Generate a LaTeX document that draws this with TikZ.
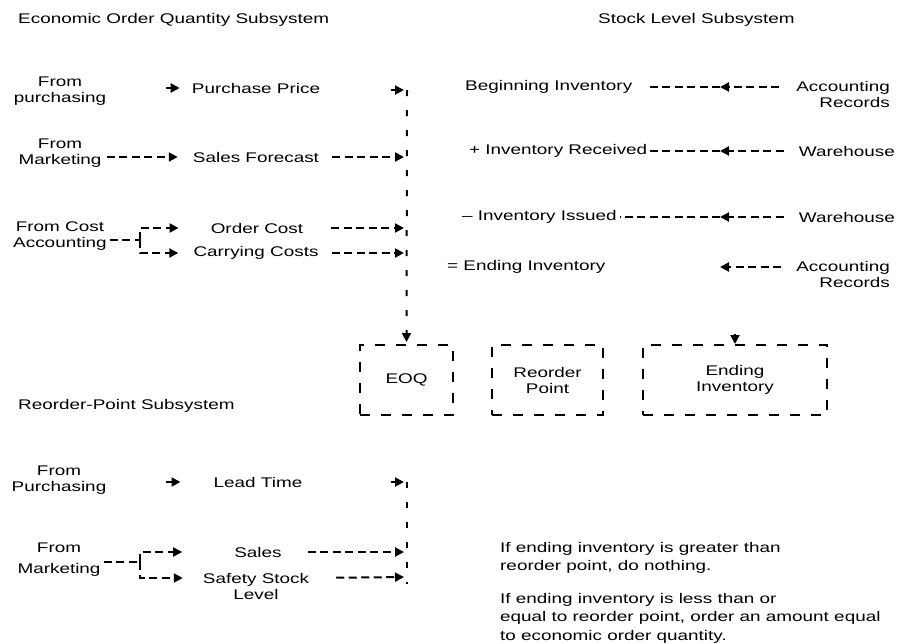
\documentclass[tikz,border=0pt]{standalone}
\usepackage{fontspec}
\setmainfont{Liberation Sans}[FakeStretch=1.35]
\usetikzlibrary{arrows.meta}
\begin{document}
\begin{tikzpicture}[x=1pt,y=-1pt,
  font=\fontsize{14}{16}\selectfont,
  txt/.style={inner sep=0pt, align=center},
  hd/.style={line width=2pt, dash pattern=on 8pt off 4.5pt},
  vd/.style={line width=2pt, dash pattern=on 6pt off 14pt},
  headarrow/.style={-{Triangle[length=9pt,width=9pt]}},
  arrowstub/.style={line width=2pt, headarrow},
  bx/.style={draw, line width=2pt, dash pattern=on 10pt off 11pt,
             inner sep=0pt, align=center, minimum height=70pt},
]
\useasboundingbox (0,0) rectangle (900,643);

% section titles
\node[txt, anchor=west] (ti1) at (18,20) {Economic Order Quantity Subsystem};
\node[txt, anchor=west] (ti2) at (598,20) {Stock Level Subsystem};
\node[txt, anchor=west] (ti3) at (18,406) {Reorder-Point Subsystem};

% sources
\node[txt] (fp1) at (60,91) {From\\purchasing};
\node[txt] (fm1) at (60,153) {From\\Marketing};
\node[txt] (fca) at (60,236) {From Cost\\Accounting};
\node[txt] (fp2) at (59,480) {From\\Purchasing};
\node[txt] (fm2) at (59,560) {From\\[5pt]Marketing};

% inputs
\node[txt] (pp) at (256,88) {Purchase Price};
\node[txt] (sf) at (256,157) {Sales Forecast};
\node[txt] (oc) at (257,228) {Order Cost};
\node[txt] (cc) at (256,253) {Carrying Costs};
\node[txt] (lt) at (258,482) {Lead Time};
\node[txt] (sl) at (258,552) {Sales};
\node[txt] (ss) at (256,586) {Safety Stock\\Level};

% stock level terms
\node[txt, anchor=west] (bi) at (465,87) {Beginning Inventory};
\node[txt, anchor=west] (ir) at (469,151) {+ Inventory Received};
\node[txt, anchor=west] (ii) at (462,217) {– Inventory Issued};
\node[txt, anchor=west] (ei0) at (447,267) {= Ending Inventory};
\node[txt, anchor=east, align=right] (ar1) at (890,94) {Accounting\\Records};
\node[txt, anchor=east] (wh1) at (895,151) {Warehouse};
\node[txt, anchor=east] (wh2) at (895,217) {Warehouse};
\node[txt, anchor=east, align=right] (ar2) at (890,274) {Accounting\\Records};

% results
\node[bx, minimum width=93pt] (eoq) at (406.5,380) {EOQ};
\node[bx, minimum width=111pt] (rop) at (547.5,380) {Reorder\\Point};
\node[bx, minimum width=184pt] (eib) at (735,380) {Ending\\Inventory};

% decision rule
\node[txt, anchor=north west, align=left, font=\fontsize{14}{18.5}\selectfont] (note) at (500,542)
  {If ending inventory is greater than\\reorder point, do nothing.\\[14pt]If ending inventory is less than or\\equal to reorder point, order an amount equal\\to economic order quantity.};

% junction points
\coordinate (t1) at (407,90);
\coordinate (t2) at (407,157);
\coordinate (t3) at (407,228);
\coordinate (t4) at (407,253);
\coordinate (t5) at (407,482);
\coordinate (t6) at (407,552);
\coordinate (t7) at (407,577);
\coordinate (t8) at (407,584);
\coordinate (j1) at (140,240);
\coordinate (j2) at (140,562);
\coordinate (s1) at (166,88);
\coordinate (s2) at (391,90);
\coordinate (s3) at (166,482);
\coordinate (s4) at (391,482);
\coordinate (m1) at (720,87);
\coordinate (m2) at (720,151);
\coordinate (m3) at (720,217);
\coordinate (m4) at (720,267);
\coordinate (eitop) at (735,334);

% economic order quantity flows
\draw[arrowstub, shorten >=12pt] (s1) -- (pp.west);
\draw[hd, headarrow, shorten <=5pt, shorten >=15pt] (fm1.east |- sf) -- (sf.west);
\draw[hd, shorten <=3pt] (fca.east |- j1) -- (j1);
\draw[hd, headarrow, shorten >=32pt] (j1) |- (oc.west);
\draw[hd, headarrow, shorten >=15pt] (j1) |- (cc.west);
\draw[arrowstub, shorten >=3pt] (s2) -- (t1);
\draw[hd, headarrow, shorten <=13pt, shorten >=3pt] (sf.east) -- (t2);
\draw[hd, headarrow, shorten <=28pt, shorten >=3pt] (oc.east) -- (t3);
\draw[hd, headarrow, shorten <=13pt, shorten >=3pt] (cc.east) -- (t4);
\draw[vd, headarrow, shorten >=2pt] (t1) -- (eoq.north);

% stock level flows
\draw[hd, headarrow, shorten <=17pt] (ar1.west |- m1) -- (m1);
\draw[hd, shorten >=13pt] (m1) -- (bi.east);
\draw[hd, headarrow, shorten <=15pt] (wh1.west) -- (m2);
\draw[hd, shorten >=2pt] (m2) -- (ir.east);
\draw[hd, headarrow, shorten <=15pt] (wh2.west) -- (m3);
\draw[hd, shorten >=3pt] (m3) -- (ii.east);
\draw[hd, headarrow, shorten <=15pt] (ar2.west |- m4) -- (m4);
\draw[arrowstub] (eitop) -- (eib.north);

% reorder point flows
\draw[arrowstub, shorten >=33pt] (s3) -- (lt.west);
\draw[arrowstub, shorten >=3pt] (s4) -- (t5);
\draw[vd] (t5) -- (t8);
\draw[hd, shorten <=3pt] (fm2.east |- j2) -- (j2);
\draw[hd, headarrow, shorten >=52pt] (j2) |- (sl.west);
\draw[hd, headarrow, shorten >=20pt] (j2) |- ([yshift=8pt]ss.west);
\draw[hd, headarrow, shorten <=26pt, shorten >=3pt] (sl.east) -- (t6);
\draw[hd, headarrow, shorten <=27pt, shorten >=3pt] ([yshift=8pt]ss.east) -- (t7);
\end{tikzpicture}
\end{document}
